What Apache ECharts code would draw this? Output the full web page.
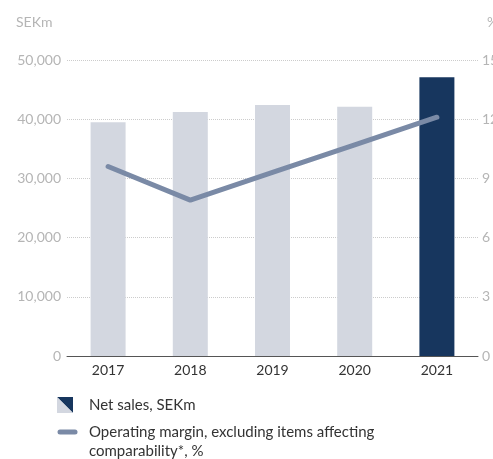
<!DOCTYPE html>
<html>
<head>
<meta charset="utf-8">
<script src="https://cdn.jsdelivr.net/npm/echarts@6/dist/echarts.min.js"></script>
<style>
  html, body { margin: 0; padding: 0; background: #fff; }
  #chart { width: 493px; height: 459px; }
</style>
</head>
<body>
<div id="chart"></div>
<script>
const years = ["2017", "2018", "2019", "2020", "2021"];
const netSales = [39500, 41200, 42400, 42100, 47100];
const opMargin = [9.6, 7.9, 9.3, 10.7, 12.1];
const leftTicks = [0, 10000, 20000, 30000, 40000, 50000];
const rightTicks = [0, 3, 6, 9, 12, 15];

const FONT = "Lato";
const light = "#d3d7e0";
const dark = "#17365e";
const lineCol = "#7a8aa6";

const chart = echarts.init(document.getElementById("chart"));
chart.setOption({
  animation: false,
  grid: { left: 67, right: 15, top: 60, bottom: 103, outerBoundsMode: "none", containLabel: false },
  xAxis: {
    type: "category",
    data: years,
    axisLine: { lineStyle: { color: "#555", width: 1 } },
    axisTick: { show: false },
    axisLabel: { color: "#333", fontFamily: FONT, fontSize: 14, margin: 7 }
  },
  yAxis: [
    {
      type: "value",
      min: leftTicks[0],
      max: leftTicks[leftTicks.length - 1],
      interval: 10000,
      axisLine: { show: false },
      axisTick: { show: false },
      splitLine: { lineStyle: { color: "#ccc", type: [1, 1], width: 1 } },
      axisLabel: {
        color: "#b5b5b5", fontFamily: FONT, fontSize: 14, margin: 6,
        formatter: v => v.toLocaleString("en-US")
      }
    },
    {
      type: "value",
      min: rightTicks[0],
      max: rightTicks[rightTicks.length - 1],
      interval: 3,
      axisLine: { show: false },
      axisTick: { show: false },
      splitLine: { show: false },
      axisLabel: { color: "#b5b5b5", fontFamily: FONT, fontSize: 14, margin: 4 }
    }
  ],
  series: [
    {
      name: "Net sales, SEKm",
      type: "bar",
      data: netSales.map((v, i) => ({
        value: v,
        itemStyle: { color: i === netSales.length - 1 ? dark : light }
      })),
      barWidth: 35
    },
    {
      name: "Operating margin",
      type: "line",
      yAxisIndex: 1,
      data: opMargin,
      symbol: "none",
      lineStyle: { color: lineCol, width: 5, cap: "round", join: "round" }
    }
  ],
  graphic: [
    { type: "text", left: 16, top: 15, style: { text: "SEKm", fill: "#b5b5b5", font: "14px " + FONT } },
    { type: "text", left: 487, top: 15, style: { text: "%", fill: "#b5b5b5", font: "14px " + FONT } },
    // legend: net sales icon (split square)
    { type: "polygon", shape: { points: [[57, 397], [73, 397], [73, 413]] }, style: { fill: dark } },
    { type: "polygon", shape: { points: [[57, 397], [73, 413], [57, 413]] }, style: { fill: light } },
    { type: "text", left: 89, top: 398, style: { text: "Net sales, SEKm", fill: "#333", font: "15px " + FONT } },
    // legend: operating margin line
    { type: "line", shape: { x1: 60, y1: 432, x2: 75, y2: 432 }, style: { stroke: lineCol, lineWidth: 5, lineCap: "round" } },
    { type: "text", left: 89, top: 423, style: { text: "Operating margin, excluding items affecting\ncomparability*, %", fill: "#333", font: "15px " + FONT, lineHeight: 19 } }
  ]
});
</script>
</body>
</html>
